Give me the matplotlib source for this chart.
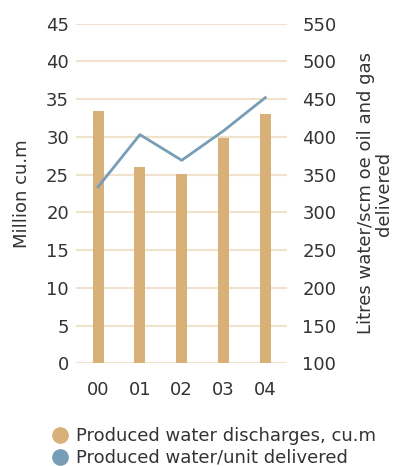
import matplotlib.pyplot as plt
from matplotlib.lines import Line2D

years = ["00", "01", "02", "03", "04"]
discharges = [33.4, 26.0, 25.1, 29.9, 33.1]      # million cu.m
per_unit = [334, 403, 369, 408, 452]             # litres water/scm oe

bar_color = "#d8b179"
line_color = "#779db7"
grid_color = "#f1e2cb"
text_color = "#333333"

plt.rcParams["font.family"] = "DejaVu Sans"
plt.rcParams["text.color"] = text_color

fig = plt.figure(figsize=(3.93, 4.66), dpi=100)
ax = fig.add_axes([76 / 393, 1 - 363.3 / 466, 211 / 393, 339.6 / 466])

x = range(len(years))
ax.bar(x, discharges, width=0.26, color=bar_color, zorder=2)
ax.set_ylim(0, 45)
ax.set_yticks(range(0, 46, 5))
ax.set_xlim(-0.53, 4.52)
ax.set_xticks(list(x))
ax.set_xticklabels(years)
for y in range(0, 46, 5):
    ax.axhline(y, color=grid_color, lw=1.5, zorder=1)
for s in ax.spines.values():
    s.set_visible(False)
ax.tick_params(length=0, labelsize=13, colors=text_color, pad=5)
ax.tick_params(axis="x", pad=13)
ax.set_ylabel("Million cu.m", fontsize=13, color=text_color, labelpad=11)

ax2 = ax.twinx()
ax2.plot(x, per_unit, color=line_color, lw=2, zorder=3)
ax2.set_ylim(100, 550)
ax2.set_yticks(range(100, 551, 50))
for s in ax2.spines.values():
    s.set_visible(False)
ax2.tick_params(length=0, labelsize=13, colors=text_color, pad=11)
ax2.set_ylabel("Litres water/scm oe oil and gas\ndelivered", fontsize=13,
               color=text_color, labelpad=15, ha="center", linespacing=0.95)

handles = [
    Line2D([], [], marker="o", ls="", color=bar_color, markersize=11),
    Line2D([], [], marker="o", ls="", color=line_color, markersize=11),
]
fig.legend(handles, ["Produced water discharges, cu.m", "Produced water/unit delivered"],
           loc="upper left", bbox_to_anchor=(44 / 393, 1 - 420 / 466), frameon=False,
           fontsize=13, handletextpad=0.35, labelspacing=0.2, borderaxespad=0,
           handlelength=1.0)

fig.savefig("out.png", dpi=100)
